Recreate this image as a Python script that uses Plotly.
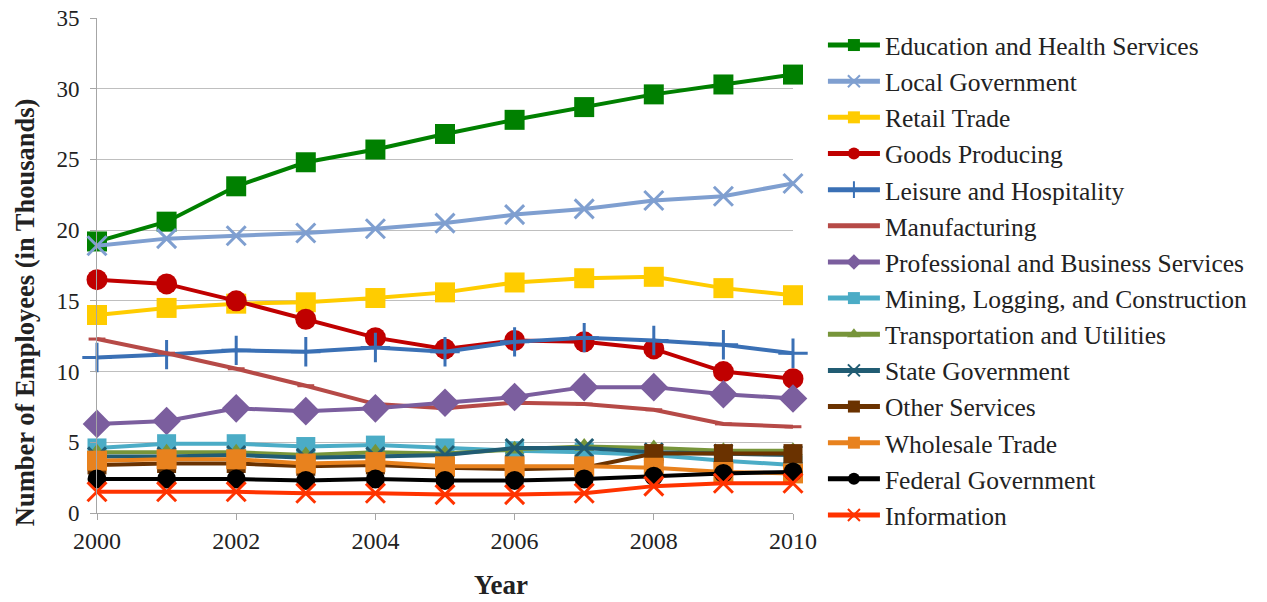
import plotly.graph_objects as go

years = [2000, 2001, 2002, 2003, 2004, 2005, 2006, 2007, 2008, 2009, 2010]

education = [19.2, 20.6, 23.1, 24.8, 25.7, 26.8, 27.8, 28.7, 29.6, 30.3, 31.0]
local_gov = [18.9, 19.4, 19.6, 19.8, 20.1, 20.5, 21.1, 21.5, 22.1, 22.4, 23.3]
retail = [14.0, 14.5, 14.8, 14.9, 15.2, 15.6, 16.3, 16.6, 16.7, 15.9, 15.4]
goods = [16.5, 16.2, 15.0, 13.7, 12.4, 11.6, 12.2, 12.1, 11.6, 10.0, 9.5]
leisure = [11.0, 11.2, 11.5, 11.4, 11.7, 11.4, 12.1, 12.4, 12.2, 11.9, 11.3]
manufacturing = [12.3, 11.3, 10.2, 9.0, 7.7, 7.4, 7.8, 7.7, 7.3, 6.3, 6.1]
professional = [6.3, 6.5, 7.4, 7.2, 7.4, 7.8, 8.2, 8.9, 8.9, 8.4, 8.1]
mining = [4.6, 4.9, 4.9, 4.7, 4.8, 4.6, 4.4, 4.3, 4.1, 3.7, 3.4]
transport = [4.3, 4.3, 4.3, 4.1, 4.3, 4.2, 4.5, 4.7, 4.6, 4.4, 4.4]
state_gov = [4.0, 4.0, 4.1, 3.9, 4.0, 4.1, 4.6, 4.6, 4.3, 4.2, 4.1]
other = [3.4, 3.5, 3.5, 3.3, 3.4, 3.2, 3.1, 3.2, 4.2, 4.2, 4.2]
wholesale = [3.7, 3.8, 3.8, 3.5, 3.6, 3.3, 3.3, 3.3, 3.2, 2.9, 2.8]
federal = [2.4, 2.4, 2.4, 2.3, 2.4, 2.3, 2.3, 2.4, 2.6, 2.8, 2.9]
information = [1.5, 1.5, 1.5, 1.4, 1.4, 1.3, 1.3, 1.4, 1.9, 2.1, 2.1]

# name, values, colour, marker symbol, marker size
series = [
    ("Education and Health Services", education, "#008000", "square", 20),
    ("Local Government", local_gov, "#7F9FD0", "x-thin", 19),
    ("Retail Trade", retail, "#FFCC00", "square", 20),
    ("Goods Producing", goods, "#C00000", "circle", 21),
    ("Leisure and Hospitality", leisure, "#3A70B5", "cross-thin", 21),
    ("Manufacturing", manufacturing, "#B64A47", "line-ew", 12),
    ("Professional and Business Services", professional, "#7B5E9E", "diamond", 22),
    ("Mining, Logging, and Construction", mining, "#4BACC6", "square", 19),
    ("Transportation and Utilities", transport, "#77953A", "triangle-up", 17),
    ("State Government", state_gov, "#215C73", "x-thin", 18),
    ("Other Services", other, "#6A3200", "square", 19),
    ("Wholesale Trade", wholesale, "#E8821E", "square", 20),
    ("Federal Government", federal, "#000000", "circle", 19),
    ("Information", information, "#FF3300", "x-thin", 19),
]

font = "Liberation Serif, Times New Roman, serif"
ink = "#222222"

fig = go.Figure()
for name, vals, color, sym, size in series:
    thin = sym in ("x-thin", "cross-thin", "line-ew")
    fig.add_trace(go.Scatter(
        x=years, y=vals, name=name, mode="lines+markers",
        line=dict(color=color, width=4),
        marker=dict(symbol=sym, size=size, color=color,
                    line=dict(color=color, width=3 if thin else 0)),
        cliponaxis=False,
    ))

# the page body adds an 8px offset, so margins are trimmed by that much
fig.update_layout(
    width=1267, height=602,
    margin=dict(l=89, r=482, t=10, b=97, autoexpand=False),
    paper_bgcolor="white", plot_bgcolor="white",
    font=dict(family=font, size=24, color=ink),
    showlegend=True,
    legend=dict(x=1.043, y=0.992, xanchor="left", yanchor="top",
                font=dict(family=font, size=25.5, color=ink),
                itemwidth=52, itemsizing="constant", maxheight=600,
                bgcolor="rgba(0,0,0,0)"),
)
fig.update_xaxes(range=[2000, 2010], tickvals=[2000, 2002, 2004, 2006, 2008, 2010],
                 showgrid=False, showline=True, linecolor="#A6A6A6", linewidth=1,
                 ticks="outside", ticklen=6, tickcolor="#A6A6A6",
                 zeroline=False, automargin=False, ticklabeloverflow="allow",
                 tickfont=dict(family=font, size=24, color=ink))
fig.update_yaxes(range=[0, 35], tickvals=[0, 5, 10, 15, 20, 25, 30, 35],
                 showgrid=True, gridcolor="#BFBFBF",
                 gridwidth=1, showline=True, linecolor="#A6A6A6", linewidth=1,
                 ticks="outside", ticklen=6, tickcolor="#A6A6A6",
                 ticklabelstandoff=6, ticklabeloverflow="allow",
                 zeroline=False, automargin=False,
                 tickfont=dict(family=font, size=23, color=ink))
fig.add_annotation(text="<b>Number of Employees (in Thousands)</b>", textangle=-90,
                   x=-0.104, y=0.405, xref="paper", yref="paper",
                   showarrow=False, font=dict(family=font, size=26.5, color=ink),
                   xanchor="center", yanchor="middle")
fig.add_annotation(text="<b>Year</b>", x=0.58, y=-0.145, xref="paper", yref="paper",
                   showarrow=False, font=dict(family=font, size=27, color=ink),
                   xanchor="center", yanchor="middle")

fig.write_html("out.html")
